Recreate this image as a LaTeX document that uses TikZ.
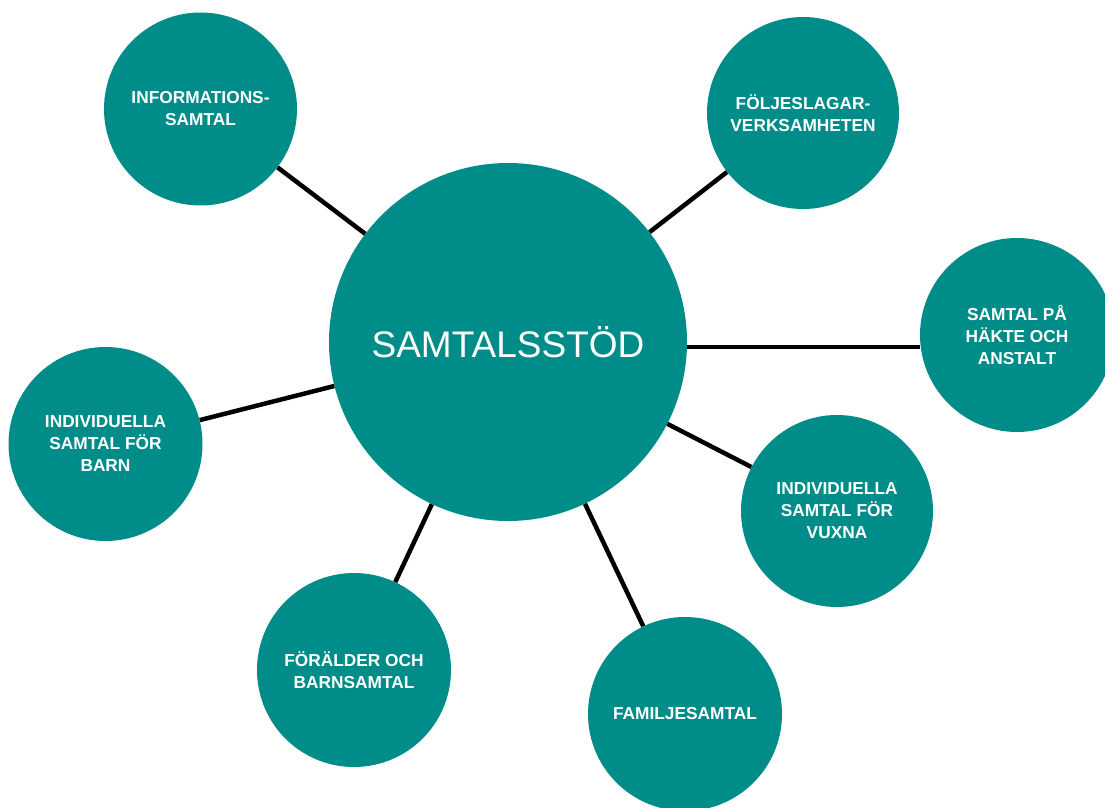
\documentclass[tikz,border=0pt]{standalone}
\usepackage{fontspec}
\setmainfont{Liberation Sans}
\definecolor{teal1}{HTML}{008C88}
\tikzset{
  bub/.style={circle, fill=teal1, draw=none, inner sep=0pt, text=white, align=center,
    font=\bfseries\fontsize{17.3}{22}\selectfont},
  hub/.style={circle, fill=teal1, draw=none, inner sep=0pt, text=white,
    minimum size=358pt, font=\fontsize{37}{40}\selectfont},
  conn/.style={draw=black, line width=4.5pt}
}
\begin{document}
\begin{tikzpicture}[x=1pt,y=1pt]
\useasboundingbox (0,0) rectangle (1105,807);
\node[hub] (c) at (508,465) {SAMTALSSTÖD};
\node[bub, minimum size=193pt] (info) at (200.5,698) {INFORMATIONS-\\SAMTAL};
\node[bub, minimum size=192pt] (folj) at (803,694) {FÖLJESLAGAR-\\VERKSAMHETEN};
\node[bub, minimum size=194pt] (hakte) at (1017,472) {SAMTAL PÅ\\HÄKTE OCH\\ANSTALT};
\node[bub, minimum size=192pt] (vuxna) at (837,296) {INDIVIDUELLA\\SAMTAL FÖR\\VUXNA};
\node[bub, minimum size=194pt] (fam) at (685,93) {FAMILJESAMTAL};
\node[bub, minimum size=194pt] (foral) at (354,137) {FÖRÄLDER OCH\\BARNSAMTAL};
\node[bub, minimum size=194pt] (barn) at (105.5,363) {INDIVIDUELLA\\SAMTAL FÖR\\BARN};
\draw[conn] (c) -- (info);
\draw[conn] (c) -- (folj);
\draw[conn] ([yshift=-5pt]c.east) -- ([yshift=-5pt]c.east -| hakte.west);
\draw[conn] (c) -- (vuxna);
\draw[conn] (c) -- (fam);
\draw[conn] (c) -- (foral);
\draw[conn] (c) -- (barn);
\end{tikzpicture}
\end{document}
